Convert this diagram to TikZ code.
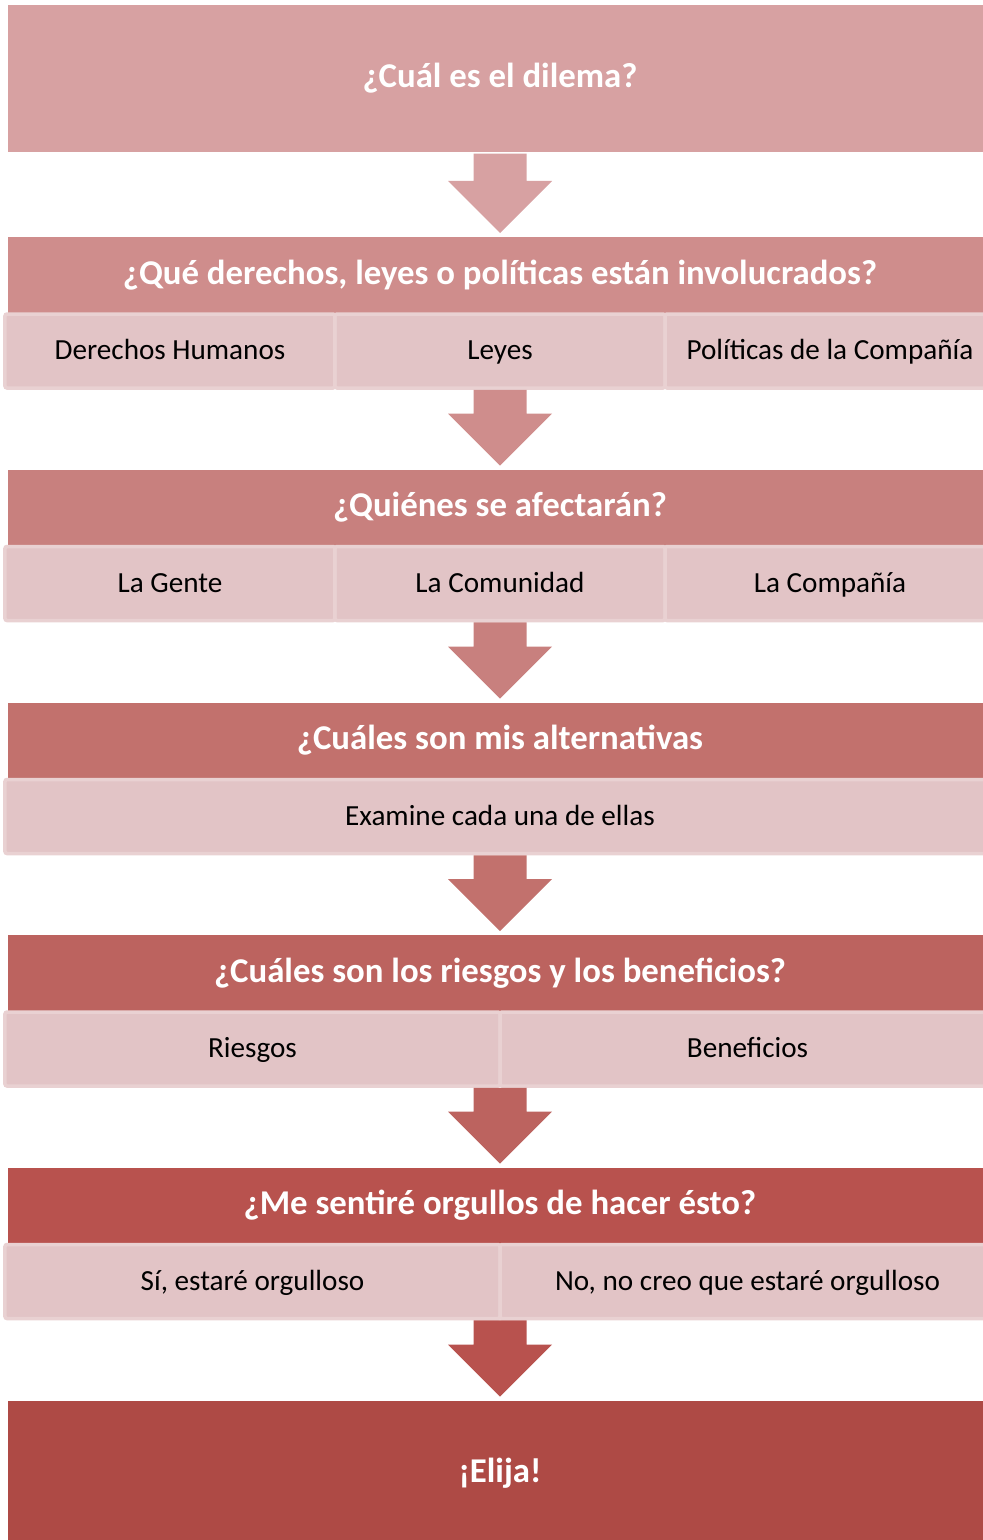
\documentclass[tikz,border=0pt]{standalone}
\usepackage{fontspec}
\setmainfont{Carlito}
\usepackage{xcolor}
\usetikzlibrary{positioning, calc}

\definecolor{qA}{HTML}{D7A1A2}
\definecolor{qB}{HTML}{CF8D8C}
\definecolor{qC}{HTML}{C8807E}
\definecolor{qD}{HTML}{C2716D}
\definecolor{qE}{HTML}{BC635F}
\definecolor{qF}{HTML}{B8524E}
\definecolor{qG}{HTML}{AE4A45}
\definecolor{answerfill}{HTML}{E2C4C6}
\definecolor{answeredge}{HTML}{E9D1D2}

\tikzset{
  question/.style={rectangle, text=white, font=\fontsize{19.8}{24}\selectfont\bfseries,
    text height=1.2em, text depth=0.2em,
    minimum width=19.68cm, minimum height=1.54cm, inner sep=0pt, outer sep=0pt},
  answer/.style={rectangle, fill=answerfill, draw=answeredge, line width=0.07cm,
    rounded corners=0.04cm, font=\fontsize{16.6}{20}\selectfont,
    text height=1.2em, text depth=0.2em,
    minimum height=1.48cm, inner sep=0pt, outer sep=0pt}
}

% block arrow from the bottom of one node to the top of the next
\newcommand{\flowarrow}[3]{%
  \fill [#3] let \p1=(#1.south), \p2=(#2.north) in
    (\x2-0.53cm,\y1-0.035cm) -- (\x2+0.53cm,\y1-0.035cm) -- (\x2+0.53cm,\y2+1.12cm)
    -- (\x2+1.04cm,\y2+1.12cm) -- (\x2,\y2+0.08cm) -- (\x2-1.04cm,\y2+1.12cm)
    -- (\x2-0.53cm,\y2+1.12cm) -- cycle;}

\begin{document}
\begin{tikzpicture}[node distance=1.63cm]
    \useasboundingbox (-10cm,1.57cm) rectangle (9.66cm,-29.23cm);

    \node [question, fill=qA, minimum height=2.94cm] (dilema) {¿Cuál es el dilema?};

    \node [question, fill=qB, below=1.7cm of dilema] (derechos) {¿Qué derechos, leyes o políticas están involucrados?};
    \node [answer, minimum width=6.6cm, below=0pt of derechos] (leyes) {Leyes};
    \node [answer, minimum width=6.6cm, left=0pt of leyes] (humanos) {Derechos Humanos};
    \node [answer, minimum width=6.6cm, right=0pt of leyes] (politicas) {Políticas de la Compañía};

    \node [question, fill=qC, below=of leyes] (afectados) {¿Quiénes se afectarán?};
    \node [answer, minimum width=6.6cm, below=0pt of afectados] (comunidad) {La Comunidad};
    \node [answer, minimum width=6.6cm, left=0pt of comunidad] (gente) {La Gente};
    \node [answer, minimum width=6.6cm, right=0pt of comunidad] (compania) {La Compañía};

    \node [question, fill=qD, below=1.64cm of comunidad] (alternativas) {¿Cuáles son mis alternativas};
    \node [answer, minimum width=19.8cm, below=0pt of alternativas] (examine) {Examine cada una de ellas};

    \node [question, fill=qE, below=of examine] (balance) {¿Cuáles son los riesgos y los beneficios?};
    \node [answer, minimum width=9.9cm, below left=0pt and 0pt of balance.south] (riesgos) {Riesgos};
    \node [answer, minimum width=9.9cm, right=0pt of riesgos] (beneficios) {Beneficios};

    \node [question, fill=qF, below=of riesgos.south east] (orgullo) {¿Me sentiré orgullos de hacer ésto?};
    \node [answer, minimum width=9.9cm, below left=0pt and 0pt of orgullo.south] (si) {Sí, estaré orgulloso};
    \node [answer, minimum width=9.9cm, right=0pt of si] (no) {No, no creo que estaré orgulloso};

    \node [question, fill=qG, minimum height=2.94cm, below=1.64cm of si.south east] (elija) {¡Elija!};

    \flowarrow{dilema}{derechos}{qA}
    \flowarrow{leyes}{afectados}{qB}
    \flowarrow{comunidad}{alternativas}{qC}
    \flowarrow{examine}{balance}{qD}
    \flowarrow{riesgos}{orgullo}{qE}
    \flowarrow{si}{elija}{qF}
\end{tikzpicture}
\end{document}
